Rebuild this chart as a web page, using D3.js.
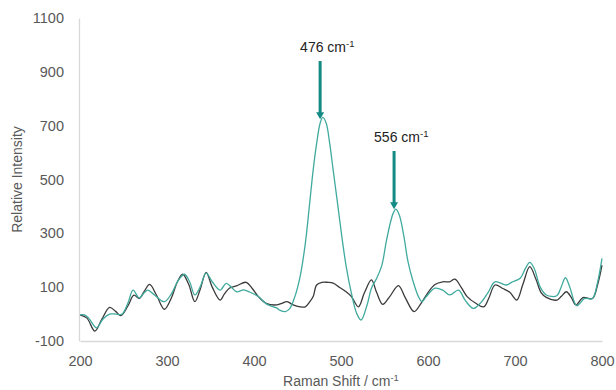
<!DOCTYPE html>
<html>
<head>
<meta charset="utf-8">
<script src="https://cdn.jsdelivr.net/npm/d3@7"></script>
<style>
  body { margin: 0; background: #fff; }
  text { font-family: "Liberation Sans", Arial, sans-serif; }
</style>
</head>
<body>
<div id="chart"></div>
<script>
// Raman shift (cm-1) and relative intensity
const shiftBlack = [200, 208, 217, 225, 234, 241, 247, 255, 262, 268, 274, 280, 288, 297, 305, 312, 318, 325, 332, 338,
    345, 352, 361, 366, 372, 380, 391, 398, 405, 414, 426, 432, 438, 445, 453, 459, 464, 468, 472, 478,
    485, 491, 498, 505, 512, 520, 527, 535, 541, 548, 556, 566, 574, 584, 592, 600, 608, 617, 625, 631,
    638, 645, 655, 664, 670, 677, 686, 694, 702, 709, 717, 724, 730, 736, 748, 753, 759, 765, 770, 778,
    789, 795, 800];
const intensityBlack = [-3, -15, -63, -20, 25, 10, -6, 30, 70, 58, 85, 110, 70, 18, 60, 120, 148, 110, 46, 90,
    155, 100, 52, 75, 97, 105, 118, 95, 65, 40, 34, 40, 46, 34, 27, 27, 45, 65, 108, 118,
    118, 115, 100, 85, 65, 27, 80, 127, 80, 36, 65, 106, 60, 9, 40, 80, 110, 120, 120, 130,
    100, 65, 40, 27, 60, 108, 95, 81, 52, 110, 176, 130, 80, 62, 52, 65, 83, 60, 34, 61,
    58, 110, 182];

const shiftTeal = [200, 205, 210, 219, 226, 234, 241, 248, 255, 261, 268, 274, 278, 286, 297, 305, 312, 320, 326, 332,
    338, 345, 352, 361, 368, 374, 380, 388, 395, 405, 415, 426, 430, 436, 441, 447, 453, 459, 464, 468,
    472, 476, 479, 483, 487, 491, 496, 501, 506, 512, 518, 523, 530, 535, 541, 547, 552, 557, 560, 563,
    567, 572, 577, 583, 589, 593, 598, 608, 617, 625, 635, 643, 652, 660, 669, 677, 690, 696, 706, 712,
    717, 722, 729, 736, 748, 753, 758, 763, 771, 780, 789, 795, 800];
const intensityTeal = [-3, -3, -15, -51, -20, 0, 0, -1, 40, 89, 60, 80, 89, 70, 46, 75, 120, 148, 120, 71,
    100, 152, 120, 89, 114, 100, 83, 90, 82, 65, 36, 23, 14, 9, 20, 65, 139, 263, 412, 535,
    634, 709, 731, 709, 634, 535, 412, 287, 176, 77, 3, -22, 34, 96, 133, 182, 269, 343, 375, 390,
    368, 294, 195, 120, 65, 46, 65, 96, 89, 71, 89, 50, 21, 40, 80, 120, 108, 118, 133, 170,
    192, 170, 100, 71, 68, 100, 135, 100, 31, 58, 58, 120, 207];

const xTicks = [200, 300, 400, 500, 600, 700, 800];
const yTicks = [-100, 100, 300, 500, 700, 900, 1100];

// peak annotations
const peakLabels = ["476", "556"];
const peakShift = [476, 561];
const arrowTop = [61, 151];

const width = 616, height = 390;
const margin = {top: 18, right: 14, bottom: 49, left: 80};

const svg = d3.select("#chart").append("svg")
    .attr("width", width)
    .attr("height", height);

const x = d3.scaleLinear()
    .domain([200, 800])
    .range([margin.left, width - margin.right]);

const y = d3.scaleLinear()
    .domain([-100, 1100])
    .range([height - margin.bottom, margin.top]);

// plain hyphen for negatives, like the original
const plain = d => String(d);

// axes
const xAxis = svg.append("g")
    .attr("transform", `translate(0, ${height - margin.bottom})`)
    .call(d3.axisBottom(x).tickValues(xTicks).tickSize(0).tickPadding(15).tickFormat(plain));
xAxis.select(".domain").attr("stroke", "#d9d9d9").attr("stroke-width", 1.3);
xAxis.selectAll("text").style("font-size", "14.5px").attr("fill", "#595959");

const yAxis = svg.append("g")
    .attr("transform", `translate(${margin.left - 1}, 0)`)
    .call(d3.axisLeft(y).tickValues(yTicks).tickSize(0).tickPadding(15).tickFormat(plain));
yAxis.select(".domain").attr("stroke", "#d9d9d9").attr("stroke-width", 1.3);
yAxis.selectAll("text").style("font-size", "14.5px").attr("fill", "#595959");

// axis titles
svg.append("text")
    .attr("transform", `translate(22, ${(margin.top + height - margin.bottom) / 2}) rotate(-90)`)
    .attr("text-anchor", "middle")
    .style("font-size", "14px")
    .attr("fill", "#595959")
    .text("Relative Intensity");

const xTitle = svg.append("text")
    .attr("x", (margin.left + width - margin.right) / 2)
    .attr("y", 386)
    .attr("text-anchor", "middle")
    .style("font-size", "14px")
    .attr("fill", "#595959");
xTitle.append("tspan").text("Raman Shift / cm");
xTitle.append("tspan").attr("dy", -5).style("font-size", "9.5px").text("-1");

// spectra
const line = d3.line()
    .x(d => x(d[0]))
    .y(d => y(d[1]))
    .curve(d3.curveCatmullRom.alpha(0.5));

svg.append("path")
    .datum(d3.zip(shiftBlack, intensityBlack))
    .attr("fill", "none")
    .attr("stroke", "#3a3a3a")
    .attr("stroke-width", 1.3)
    .attr("d", line);

svg.append("path")
    .datum(d3.zip(shiftTeal, intensityTeal))
    .attr("fill", "none")
    .attr("stroke", "#40aa9e")
    .attr("stroke-width", 1.3)
    .attr("d", line);

// arrows + labels
const peakTop = peakShift.map((s, i) => {
    // intensity of teal curve at the closest sampled shift
    const j = d3.leastIndex(shiftTeal, v => Math.abs(v - s));
    return intensityTeal[j];
});

peakShift.forEach((s, i) => {
    const px = x(s);
    const tipY = y(peakTop[i]) - 4;
    svg.append("line")
        .attr("x1", px).attr("x2", px)
        .attr("y1", arrowTop[i]).attr("y2", tipY - 6)
        .attr("stroke", "#138a84")
        .attr("stroke-width", 3);
    svg.append("path")
        .attr("d", `M${px - 4},${tipY - 7} L${px + 4},${tipY - 7} L${px},${tipY} Z`)
        .attr("fill", "#138a84");
    const t = svg.append("text")
        .attr("x", px - 20)
        .attr("y", arrowTop[i] - 9)
        .style("font-size", "14px")
        .attr("fill", "#222");
    t.append("tspan").text(peakLabels[i] + " cm");
    t.append("tspan").attr("dy", -5).style("font-size", "9.5px").text("-1");
});
</script>
</body>
</html>
